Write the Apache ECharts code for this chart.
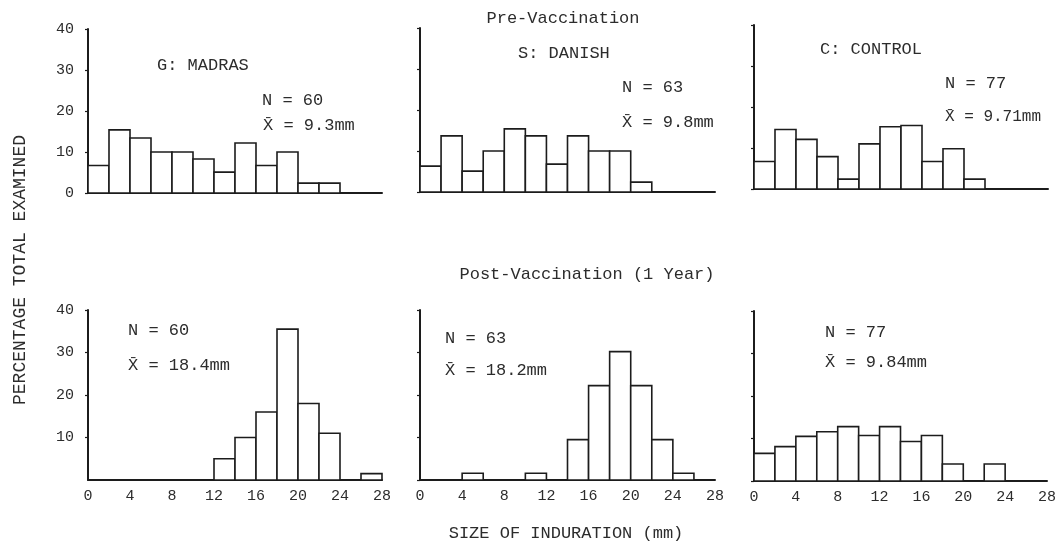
<!DOCTYPE html>
<html>
<head>
<meta charset="utf-8">
<script src="https://cdn.jsdelivr.net/npm/echarts@6/dist/echarts.min.js"></script>
<style>
  html, body { margin: 0; padding: 0; background: #fff; }
  #chart { width: 1059px; height: 541px; }
</style>
</head>
<body>
<div id="chart"></div>
<script>
// Induration size histograms, 2 mm bins from 0 to 28 mm (percent of total examined)
const binStarts = [0, 2, 4, 6, 8, 10, 12, 14, 16, 18, 20, 22, 24, 26];
const binWidth = 2;

const preMadras  = [6.7, 15.4, 13.4, 10, 10, 8.3, 5.1, 12.2, 6.7, 10, 2.4, 2.4, 0, 0];
const preDanish  = [6.3, 13.7, 5.1, 10, 15.4, 13.7, 6.8, 13.7, 10, 10, 2.4, 0, 0, 0];
const preControl = [6.7, 14.5, 12.1, 7.9, 2.4, 11, 15.2, 15.5, 6.7, 9.8, 2.4, 0, 0, 0];

const postMadras  = [0, 0, 0, 0, 0, 0, 5, 10, 16, 35.5, 18, 11, 0, 1.5];
const postDanish  = [0, 0, 1.6, 0, 0, 1.6, 0, 9.5, 22.2, 30.2, 22.2, 9.5, 1.6, 0];
const postControl = [6.5, 8.1, 10.5, 11.6, 12.8, 10.7, 12.8, 9.3, 10.7, 4, 0, 4, 0, 0];

const xTicks = [0, 4, 8, 12, 16, 20, 24, 28];
const yTicks = [0, 10, 20, 30, 40];

const panelTitles = ['G: MADRAS', 'S: DANISH', 'C: CONTROL'];
const preStats  = [['N = 60', 'X\u0304 = 9.3mm'], ['N = 63', 'X\u0304 = 9.8mm'], ['N = 77', 'X\u0304 = 9.71mm']];
const postStats = [['N = 60', 'X\u0304 = 18.4mm'], ['N = 63', 'X\u0304 = 18.2mm'], ['N = 77', 'X\u0304 = 9.84mm']];

const FONT = '"Liberation Mono", "DejaVu Sans Mono", monospace';
const INK = '#1c1c1c';
const TEXT = '#2c2c2c';

const panels = [
  { data: preMadras,   grid: { left: 88,  top: 29,  width: 294, height: 164 }, yLabels: 'all',   xLabels: false },
  { data: preDanish,   grid: { left: 420, top: 28,  width: 295, height: 164 }, yLabels: 'none',  xLabels: false },
  { data: preControl,  grid: { left: 754, top: 25,  width: 294, height: 164 }, yLabels: 'none',  xLabels: false },
  { data: postMadras,  grid: { left: 88,  top: 310, width: 294, height: 170 }, yLabels: 'nozero', xLabels: true },
  { data: postDanish,  grid: { left: 420, top: 310, width: 295, height: 170 }, yLabels: 'none',  xLabels: true },
  { data: postControl, grid: { left: 754, top: 311, width: 294, height: 170 }, yLabels: 'none',  xLabels: true }
];

function binData(values) {
  const out = [];
  values.forEach((v, i) => {
    if (v > 0) out.push([binStarts[i], binStarts[i] + binWidth, v]);
  });
  return out;
}

function renderBin(params, api) {
  const start = api.coord([api.value(0), api.value(2)]);
  const end = api.coord([api.value(1), 0]);
  return {
    type: 'rect',
    shape: { x: start[0], y: start[1], width: end[0] - start[0], height: end[1] - start[1] },
    style: { fill: '#ffffff', stroke: INK, lineWidth: 1.6 }
  };
}

const grids = [], xAxes = [], yAxes = [], series = [];
panels.forEach((p, i) => {
  grids.push(Object.assign({ containLabel: false }, p.grid));
  xAxes.push({
    type: 'value', gridIndex: i, min: xTicks[0], max: xTicks[xTicks.length - 1], interval: 4,
    axisLine: { show: true, lineStyle: { color: INK, width: 2 } },
    axisTick: { show: false },
    splitLine: { show: false },
    axisLabel: { show: p.xLabels, color: TEXT, fontFamily: FONT, fontSize: 15, margin: 9 }
  });
  yAxes.push({
    type: 'value', gridIndex: i, min: yTicks[0], max: yTicks[yTicks.length - 1], interval: 10,
    axisLine: { show: true, lineStyle: { color: INK, width: 2 } },
    axisTick: { show: true, length: 3, lineStyle: { color: INK, width: 1.2 } },
    splitLine: { show: false },
    axisLabel: {
      show: p.yLabels !== 'none', showMinLabel: p.yLabels === 'all',
      color: TEXT, fontFamily: FONT, fontSize: 15, margin: 14
    }
  });
  series.push({
    type: 'custom', xAxisIndex: i, yAxisIndex: i,
    renderItem: renderBin, data: binData(p.data), silent: true
  });
});

function txt(x, y, s, size) {
  return {
    type: 'text', x: x, y: y, silent: true,
    style: { text: s, fill: TEXT, font: (size || 17) + 'px ' + FONT, textVerticalAlign: 'middle', textAlign: 'left' }
  };
}
function centered(x, y, s, size) {
  const t = txt(x, y, s, size);
  t.style.textAlign = 'center';
  return t;
}

const graphics = [
  centered(563, 18, 'Pre-Vaccination'),
  centered(587, 274, 'Post-Vaccination (1 Year)'),
  centered(566, 533, 'SIZE OF INDURATION (mm)'),
  txt(157, 65, panelTitles[0]),
  txt(518, 53, panelTitles[1]),
  txt(820, 49, panelTitles[2]),
  txt(262, 100, preStats[0][0]), txt(263, 125, preStats[0][1]),
  txt(622, 87, preStats[1][0]),  txt(622, 122, preStats[1][1]),
  txt(945, 83, preStats[2][0]),  txt(945, 117, preStats[2][1], 16),
  txt(128, 330, postStats[0][0]), txt(128, 365, postStats[0][1]),
  txt(445, 338, postStats[1][0]), txt(445, 370, postStats[1][1]),
  txt(825, 332, postStats[2][0]), txt(825, 362, postStats[2][1]),
  {
    type: 'text', x: 20, y: 270, rotation: Math.PI / 2, silent: true,
    style: { text: 'PERCENTAGE TOTAL EXAMINED', fill: TEXT, font: '18px ' + FONT,
             textAlign: 'center', textVerticalAlign: 'middle' }
  }
];

const chart = echarts.init(document.getElementById('chart'), null, { renderer: 'canvas' });
chart.setOption({
  backgroundColor: '#ffffff',
  animation: false,
  grid: grids,
  xAxis: xAxes,
  yAxis: yAxes,
  series: series,
  graphic: graphics
});
</script>
</body>
</html>
